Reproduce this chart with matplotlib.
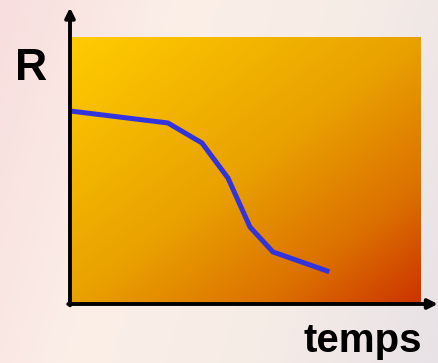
import numpy as np
import matplotlib.pyplot as plt
from matplotlib.colors import LinearSegmentedColormap

# Courbe R en fonction du temps (unités arbitraires)
temps = [0.0, 2.79, 3.76, 4.50, 5.13, 5.78, 7.32]
R = [7.23, 6.78, 6.03, 4.72, 2.88, 1.95, 1.24]

x_max = 10.0
y_max = 10.0

fig = plt.figure(figsize=(4.39, 3.63), dpi=100)

# Fond de la diapositive (dégradé rose pâle / crème)
bg = fig.add_axes([0, 0, 1, 1])
bg_cmap = LinearSegmentedColormap.from_list(
    'bg', ['#f8dede', '#fbefe8', '#f6ece6', '#e8e2e6'])
gx, gy = np.meshgrid(np.linspace(0, 1, 200), np.linspace(0, 1, 200))
bg.imshow(gx * 0.8 + (1 - gy) * 0.2, cmap=bg_cmap, aspect='auto',
          extent=[0, 1, 0, 1], origin='lower')
bg.axis('off')

# Zone du graphe
ax = fig.add_axes([70 / 439, 59 / 363, 351 / 439, 267 / 363])
plot_cmap = LinearSegmentedColormap.from_list(
    'plot', [(0, '#ffcc00'), (0.5, '#e9a100'), (0.78, '#dc7000'), (1, '#cc3300')])
px, py = np.meshgrid(np.linspace(0, 1, 300), np.linspace(0, 1, 300))
ax.imshow((px + (1 - py)) / 2, cmap=plot_cmap, aspect='auto',
          extent=[0, x_max, 0, y_max], origin='lower', zorder=0)

ax.plot(temps, R, color='#3333dd', lw=3.6, solid_joinstyle='miter', zorder=2)

ax.set_xlim(0, x_max)
ax.set_ylim(0, y_max)
ax.set_xticks([])
ax.set_yticks([])
for s in ax.spines.values():
    s.set_visible(False)

# Axes avec flèches
arrow = dict(arrowstyle='-|>', color='black', lw=2.8, mutation_scale=14,
             shrinkA=0, shrinkB=0)
ax.annotate('', xy=(0, 1.11), xytext=(0, -0.005), xycoords='axes fraction',
            arrowprops=arrow, annotation_clip=False)
ax.annotate('', xy=(1.048, 0), xytext=(-0.005, 0), xycoords='axes fraction',
            arrowprops=arrow, annotation_clip=False)

fig.text(31 / 439, 1 - 68 / 363, 'R', fontsize=32, fontweight='bold',
         family='Liberation Sans', ha='center', va='center')
fig.text(422 / 439, 1 - 352 / 363, 'temps', fontsize=29, fontweight='bold',
         family='Liberation Sans', ha='right', va='baseline')

fig.savefig('out.png', dpi=100)
